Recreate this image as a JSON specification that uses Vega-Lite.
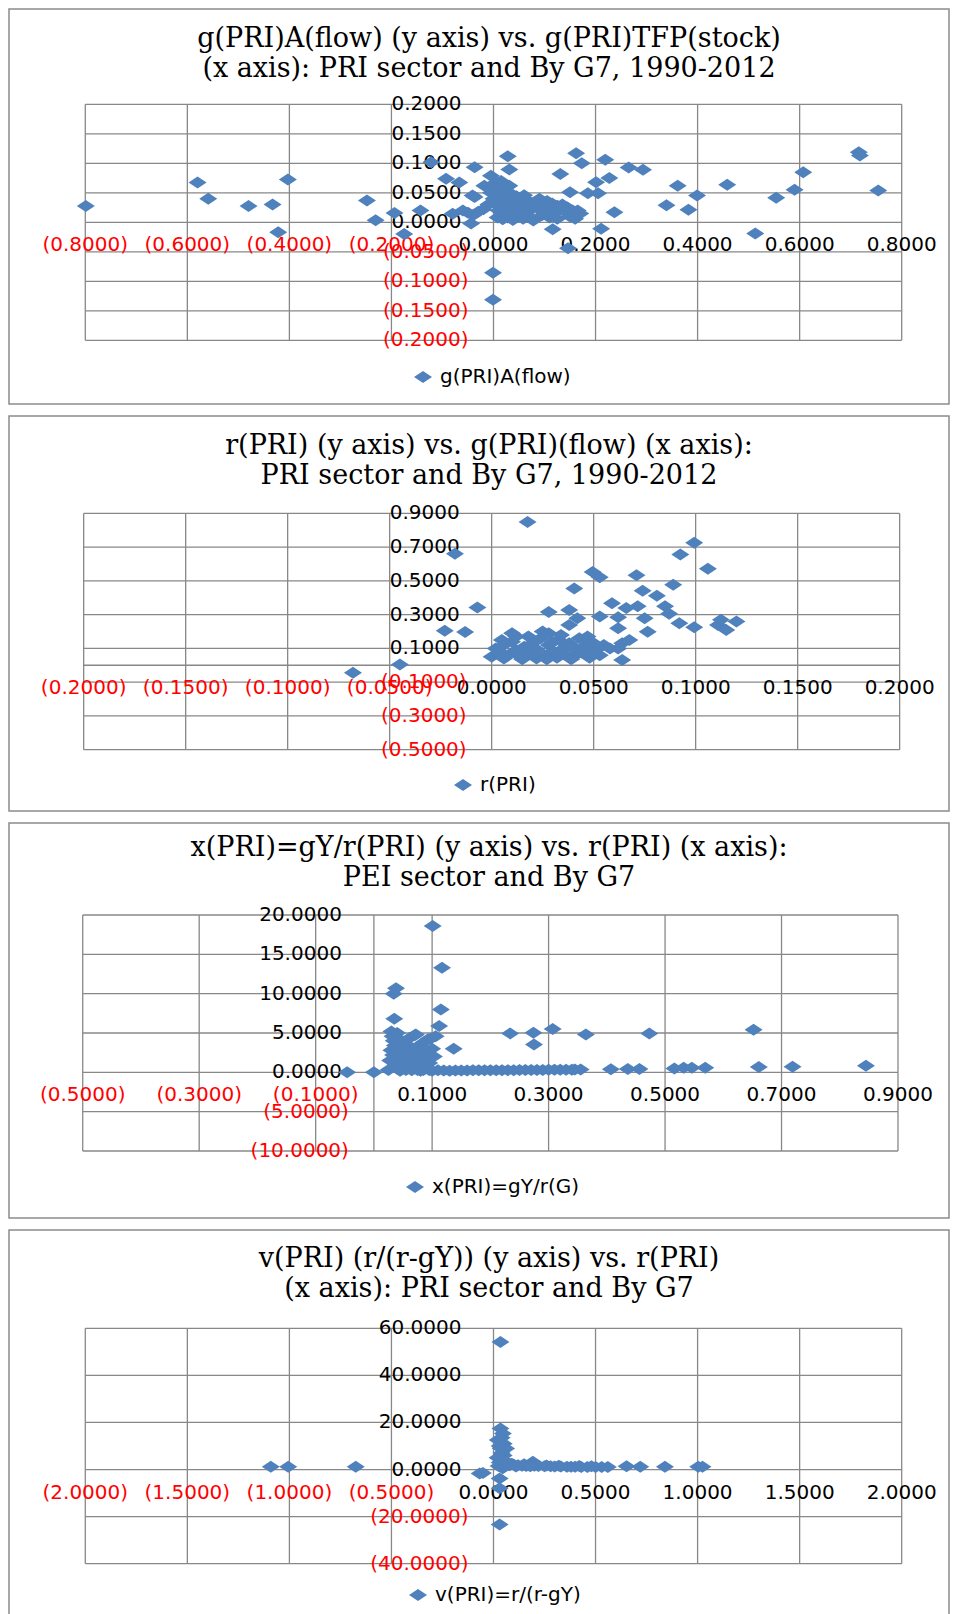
{
  "$schema": "https://vega.github.io/schema/vega-lite/v6.json",
  "background": "white",
  "padding": {"left": 8, "top": 8, "right": 2, "bottom": 0},
  "spacing": 10,
  "config": {
    "view": {"stroke": "#8c8c8c", "strokeWidth": 1.5},
    "title": {"font": "DejaVu Serif", "fontSize": 27, "fontWeight": "normal", "color": "#000000", "lineHeight": 30, "anchor": "middle", "frame": "group", "dx": 10},
    "legend": {"labelFont": "DejaVu Sans", "labelFontSize": 20, "labelColor": "#000000", "symbolSize": 144, "symbolType": "M-1.5,0L0,-1L1.5,0L0,1Z", "symbolStrokeWidth": 0, "symbolOpacity": 1, "padding": 0, "labelOffset": 7}
  },
  "resolve": {"scale": {"x": "independent", "y": "independent", "color": "independent"}, "legend": {"color": "independent"}},
  "datasets": {
    "p1": [
      {"x":-0.799,"y":0.0275},{"x":-0.580,"y":0.0674},{"x":-0.559,"y":0.040},{"x":-0.480,"y":0.0275},{"x":-0.433,"y":0.030},{"x":-0.403,"y":0.0725},{"x":-0.422,"y":-0.017},{"x":-0.248,"y":0.037},{"x":-0.231,"y":0.0034},{"x":-0.194,"y":0.0157},{"x":-0.175,"y":-0.020},{"x":-0.143,"y":0.020},{"x":-0.122,"y":0.1017},{"x":-0.093,"y":0.0736},{"x":-0.067,"y":0.0674},{"x":-0.037,"y":0.0933},{"x":-0.037,"y":0.0427},{"x":-0.080,"y":0.0146},{"x":-0.044,"y":-0.002},{"x":-0.001,"y":-0.0854},{"x":-0.001,"y":-0.1315},{"x":-0.005,"y":0.079},{"x":0.028,"y":0.1118},{"x":0.031,"y":0.0893},{"x":0.131,"y":0.082},{"x":0.162,"y":0.117},{"x":0.173,"y":0.100},{"x":0.219,"y":0.106},{"x":0.265,"y":0.093},{"x":0.293,"y":0.089},{"x":0.227,"y":0.075},{"x":0.201,"y":0.068},{"x":0.150,"y":0.051},{"x":0.185,"y":0.049},{"x":0.205,"y":0.049},{"x":0.165,"y":0.020},{"x":0.237,"y":0.017},{"x":0.211,"y":-0.011},{"x":0.116,"y":-0.012},{"x":0.146,"y":-0.044},{"x":0.361,"y":0.062},{"x":0.399,"y":0.0455},{"x":0.339,"y":0.0287},{"x":0.382,"y":0.0213},{"x":0.458,"y":0.0635},{"x":0.513,"y":-0.019},{"x":0.554,"y":0.0416},{"x":0.590,"y":0.055},{"x":0.607,"y":0.085},{"x":0.716,"y":0.1185},{"x":0.718,"y":0.113},{"x":0.754,"y":0.054},{"x":-0.018,"y":0.062},{"x":0.031,"y":0.062},{"x":-0.041,"y":0.0455},
      {"x":0.000,"y":0.040},{"x":0.005,"y":0.030},{"x":0.010,"y":0.020},{"x":0.015,"y":0.045},{"x":0.020,"y":0.035},{"x":0.025,"y":0.025},{"x":0.030,"y":0.015},{"x":0.035,"y":0.040},{"x":0.040,"y":0.030},{"x":0.045,"y":0.020},{"x":0.050,"y":0.035},{"x":0.055,"y":0.028},{"x":0.060,"y":0.018},{"x":0.065,"y":0.038},{"x":0.070,"y":0.030},{"x":0.075,"y":0.022},{"x":0.080,"y":0.034},{"x":0.085,"y":0.026},{"x":0.090,"y":0.040},{"x":0.095,"y":0.020},{"x":0.100,"y":0.030},{"x":0.105,"y":0.036},{"x":0.110,"y":0.024},{"x":0.115,"y":0.032},{"x":0.120,"y":0.016},{"x":0.125,"y":0.028},{"x":0.130,"y":0.022},{"x":0.140,"y":0.018},{"x":0.150,"y":0.010},{"x":0.160,"y":0.006},{"x":-0.010,"y":0.030},{"x":-0.020,"y":0.022},{"x":-0.030,"y":0.018},{"x":-0.040,"y":0.012},{"x":-0.050,"y":0.016},{"x":-0.060,"y":0.020},{"x":0.008,"y":0.008},{"x":0.018,"y":0.005},{"x":0.028,"y":0.008},{"x":0.038,"y":0.004},{"x":0.048,"y":0.010},{"x":0.058,"y":0.006},{"x":0.068,"y":0.010},{"x":0.078,"y":0.003},{"x":0.012,"y":0.052},{"x":0.022,"y":0.058},{"x":0.002,"y":0.060},{"x":0.032,"y":0.050},{"x":0.045,"y":0.044},{"x":0.060,"y":0.046},{"x":0.015,"y":0.070},{"x":0.005,"y":0.068},{"x":-0.005,"y":0.050},{"x":0.095,"y":0.012},{"x":0.110,"y":0.008},{"x":0.135,"y":0.030},{"x":0.145,"y":0.025},{"x":0.155,"y":0.020},{"x":0.170,"y":0.015},{"x":0.125,"y":0.006}
    ],
    "p2": [
      {"x":-0.068,"y":-0.045},{"x":-0.045,"y":0.005},{"x":-0.018,"y":0.660},{"x":-0.007,"y":0.342},{"x":-0.023,"y":0.205},{"x":-0.013,"y":0.197},{"x":0.0176,"y":0.848},{"x":0.028,"y":0.315},{"x":0.0405,"y":0.454},{"x":0.038,"y":0.328},{"x":0.042,"y":0.279},{"x":0.038,"y":0.239},{"x":0.0495,"y":0.553},{"x":0.053,"y":0.521},{"x":0.053,"y":0.289},{"x":0.059,"y":0.368},{"x":0.062,"y":0.285},{"x":0.062,"y":0.219},{"x":0.066,"y":0.339},{"x":0.0716,"y":0.349},{"x":0.071,"y":0.533},{"x":0.074,"y":0.442},{"x":0.075,"y":0.279},{"x":0.0765,"y":0.199},{"x":0.081,"y":0.412},{"x":0.085,"y":0.349},{"x":0.087,"y":0.305},{"x":0.089,"y":0.477},{"x":0.0925,"y":0.656},{"x":0.092,"y":0.249},{"x":0.0993,"y":0.726},{"x":0.0993,"y":0.225},{"x":0.106,"y":0.571},{"x":0.111,"y":0.239},{"x":0.1124,"y":0.269},{"x":0.115,"y":0.209},{"x":0.120,"y":0.259},{"x":0.062,"y":0.100},{"x":0.064,"y":0.130},{"x":0.064,"y":0.031},{"x":0.0675,"y":0.149},
      {"x":0.000,"y":0.050},{"x":0.002,"y":0.100},{"x":0.004,"y":0.080},{"x":0.006,"y":0.120},{"x":0.008,"y":0.060},{"x":0.010,"y":0.190},{"x":0.010,"y":0.140},{"x":0.012,"y":0.090},{"x":0.014,"y":0.050},{"x":0.016,"y":0.110},{"x":0.018,"y":0.170},{"x":0.018,"y":0.070},{"x":0.020,"y":0.130},{"x":0.022,"y":0.040},{"x":0.022,"y":0.095},{"x":0.024,"y":0.160},{"x":0.026,"y":0.060},{"x":0.028,"y":0.120},{"x":0.028,"y":0.190},{"x":0.030,"y":0.085},{"x":0.032,"y":0.045},{"x":0.033,"y":0.150},{"x":0.035,"y":0.100},{"x":0.036,"y":0.065},{"x":0.038,"y":0.130},{"x":0.040,"y":0.050},{"x":0.041,"y":0.095},{"x":0.043,"y":0.160},{"x":0.044,"y":0.075},{"x":0.046,"y":0.115},{"x":0.048,"y":0.045},{"x":0.049,"y":0.140},{"x":0.051,"y":0.090},{"x":0.053,"y":0.060},{"x":0.055,"y":0.120},{"x":0.006,"y":0.040},{"x":0.012,"y":0.170},{"x":0.025,"y":0.200},{"x":0.034,"y":0.180},{"x":0.015,"y":0.035},{"x":0.027,"y":0.035},{"x":0.039,"y":0.035},{"x":0.045,"y":0.100},{"x":0.005,"y":0.150},{"x":0.020,"y":0.100},{"x":0.030,"y":0.140},{"x":0.040,"y":0.110},{"x":0.050,"y":0.070},{"x":0.058,"y":0.100},{"x":0.047,"y":0.170}
    ],
    "p3": [
      {"x":-0.046,"y":0.0},{"x":0.000,"y":0.0},{"x":0.101,"y":18.6},{"x":0.117,"y":13.3},{"x":0.038,"y":10.7},{"x":0.034,"y":10.0},{"x":0.035,"y":6.8},{"x":0.115,"y":8.0},{"x":0.112,"y":5.9},{"x":0.137,"y":3.0},{"x":0.098,"y":4.3},{"x":0.070,"y":4.7},{"x":0.234,"y":4.95},{"x":0.274,"y":5.03},{"x":0.275,"y":3.55},{"x":0.307,"y":5.5},{"x":0.364,"y":4.8},{"x":0.473,"y":4.95},{"x":0.652,"y":5.4},{"x":0.407,"y":0.38},{"x":0.436,"y":0.42},{"x":0.456,"y":0.42},{"x":0.516,"y":0.5},{"x":0.532,"y":0.59},{"x":0.546,"y":0.59},{"x":0.569,"y":0.59},{"x":0.661,"y":0.67},{"x":0.719,"y":0.72},{"x":0.845,"y":0.84},
      {"x":0.030,"y":5.2},{"x":0.032,"y":4.6},{"x":0.034,"y":4.0},{"x":0.036,"y":3.4},{"x":0.030,"y":2.8},{"x":0.033,"y":2.2},{"x":0.035,"y":1.6},{"x":0.038,"y":1.0},{"x":0.040,"y":0.5},{"x":0.028,"y":1.5},{"x":0.042,"y":3.0},{"x":0.045,"y":2.0},{"x":0.048,"y":4.0},{"x":0.050,"y":1.2},{"x":0.052,"y":2.8},{"x":0.055,"y":3.6},{"x":0.058,"y":0.8},{"x":0.060,"y":2.2},{"x":0.062,"y":4.4},{"x":0.065,"y":1.5},{"x":0.068,"y":3.0},{"x":0.070,"y":2.0},{"x":0.072,"y":4.8},{"x":0.075,"y":1.0},{"x":0.078,"y":3.4},{"x":0.080,"y":2.4},{"x":0.083,"y":0.6},{"x":0.085,"y":3.8},{"x":0.088,"y":1.8},{"x":0.090,"y":2.8},{"x":0.093,"y":4.2},{"x":0.095,"y":1.2},{"x":0.100,"y":3.0},{"x":0.103,"y":2.0},{"x":0.106,"y":4.6},{"x":0.040,"y":5.0},{"x":0.025,"y":0.3},{"x":0.045,"y":0.2},{"x":0.055,"y":0.3},{"x":0.065,"y":0.25},{"x":0.075,"y":0.3},{"x":0.085,"y":0.3},{"x":0.095,"y":0.3},
      {"x":0.08,"y":0.2},{"x":0.10,"y":0.2},{"x":0.12,"y":0.22},{"x":0.14,"y":0.22},{"x":0.16,"y":0.24},{"x":0.18,"y":0.25},{"x":0.20,"y":0.26},{"x":0.22,"y":0.28},{"x":0.24,"y":0.28},{"x":0.26,"y":0.3},{"x":0.28,"y":0.3},{"x":0.30,"y":0.32},{"x":0.32,"y":0.33},{"x":0.34,"y":0.34},{"x":0.355,"y":0.35},{"x":0.11,"y":0.25},{"x":0.13,"y":0.2},{"x":0.15,"y":0.23},{"x":0.17,"y":0.25},{"x":0.19,"y":0.26},{"x":0.21,"y":0.27},{"x":0.23,"y":0.28},{"x":0.25,"y":0.29},{"x":0.27,"y":0.3},{"x":0.29,"y":0.31},{"x":0.31,"y":0.32},{"x":0.33,"y":0.33},{"x":0.345,"y":0.35}
    ],
    "p4": [
      {"x":-1.091,"y":1.2},{"x":-1.006,"y":1.2},{"x":-0.675,"y":1.2},{"x":-0.068,"y":-1.7},{"x":-0.052,"y":-1.5},{"x":0.034,"y":54.2},{"x":0.030,"y":-23.3},{"x":0.030,"y":-3.8},{"x":0.030,"y":-8.0},{"x":0.034,"y":17.4},{"x":0.046,"y":15.3},{"x":0.021,"y":12.5},{"x":0.05,"y":11.0},{"x":0.062,"y":8.9},{"x":0.03,"y":10.0},{"x":0.04,"y":7.0},{"x":0.02,"y":5.0},{"x":0.05,"y":4.0},{"x":0.03,"y":3.0},{"x":0.06,"y":2.5},{"x":0.025,"y":1.5},{"x":0.07,"y":2.0},{"x":0.045,"y":0.5},{"x":0.08,"y":1.8},{"x":0.1,"y":2.0},{"x":0.12,"y":1.8},{"x":0.14,"y":1.6},{"x":0.16,"y":1.5},{"x":0.193,"y":3.3},{"x":0.2,"y":1.6},{"x":0.22,"y":1.5},{"x":0.25,"y":1.4},{"x":0.28,"y":1.4},{"x":0.3,"y":1.3},{"x":0.33,"y":1.3},{"x":0.36,"y":1.2},{"x":0.38,"y":1.2},{"x":0.4,"y":1.2},{"x":0.43,"y":1.1},{"x":0.46,"y":1.1},{"x":0.5,"y":1.1},{"x":0.53,"y":1.1},{"x":0.56,"y":1.1},{"x":0.652,"y":1.4},{"x":0.719,"y":1.15},{"x":0.840,"y":1.15},{"x":1.003,"y":1.15},{"x":1.024,"y":1.15},{"x":0.09,"y":2.5},{"x":0.11,"y":1.3},{"x":0.15,"y":2.2},{"x":0.18,"y":1.4},{"x":0.26,"y":1.7},{"x":0.32,"y":1.6},{"x":0.42,"y":1.5},{"x":0.48,"y":1.4},{"x":0.04,"y":13.5},{"x":0.05,"y":6.0},{"x":0.035,"y":9.0},{"x":0.06,"y":3.5}
    ],
    "p1gx": [{"v":-0.8},{"v":-0.6},{"v":-0.4},{"v":-0.2},{"v":0},{"v":0.2},{"v":0.4},{"v":0.6},{"v":0.8}],
    "p1gy": [{"v":-0.2},{"v":-0.15},{"v":-0.1},{"v":-0.05},{"v":0},{"v":0.05},{"v":0.1},{"v":0.15},{"v":0.2}],
    "p2gx": [{"v":-0.2},{"v":-0.15},{"v":-0.1},{"v":-0.05},{"v":0},{"v":0.05},{"v":0.1},{"v":0.15},{"v":0.2}],
    "p2gy": [{"v":-0.5},{"v":-0.3},{"v":-0.1},{"v":0.1},{"v":0.3},{"v":0.5},{"v":0.7},{"v":0.9}],
    "p3gx": [{"v":-0.5},{"v":-0.3},{"v":-0.1},{"v":0.1},{"v":0.3},{"v":0.5},{"v":0.7},{"v":0.9}],
    "p3gy": [{"v":-10},{"v":-5},{"v":0},{"v":5},{"v":10},{"v":15},{"v":20}],
    "p4gx": [{"v":-2},{"v":-1.5},{"v":-1},{"v":-0.5},{"v":0},{"v":0.5},{"v":1},{"v":1.5},{"v":2}],
    "p4gy": [{"v":-40},{"v":-20},{"v":0},{"v":20},{"v":40},{"v":60}]
  },
  "vconcat": [
    {
      "width": 940, "height": 395,
      "title": {"text": ["g(PRI)A(flow) (y axis) vs. g(PRI)TFP(stock)", "(x axis): PRI sector and By G7, 1990-2012"], "offset": -74},
      "layer": [
        {"data": {"name": "p1gx"}, "mark": {"type": "rule", "color": "#888888", "strokeWidth": 1.3},
         "encoding": {"x": {"field": "v", "type": "quantitative", "scale": {"domain": [-0.9495, 0.8927], "nice": false, "zero": false}, "axis": null},
                      "y": {"datum": -0.2, "type": "quantitative", "scale": {"domain": [-0.308, 0.3615], "nice": false, "zero": false}, "axis": null},
                      "y2": {"datum": 0.2}}},
        {"data": {"name": "p1gy"}, "mark": {"type": "rule", "color": "#888888", "strokeWidth": 1.3},
         "encoding": {"y": {"field": "v", "type": "quantitative", "scale": {"domain": [-0.308, 0.3615], "nice": false, "zero": false}, "axis": null},
                      "x": {"datum": -0.8, "type": "quantitative", "scale": {"domain": [-0.9495, 0.8927], "nice": false, "zero": false}, "axis": null},
                      "x2": {"datum": 0.8}}},
        {"data": {"name": "p1gx"}, "mark": {"type": "text", "font": "DejaVu Sans", "fontSize": 20, "align": "center", "baseline": "middle", "dy": 23},
         "encoding": {"x": {"field": "v", "type": "quantitative"}, "y": {"datum": 0, "type": "quantitative"},
                      "text": {"field": "v", "type": "quantitative", "format": "(.4f"},
                      "color": {"condition": {"test": "datum.v < 0", "value": "#FF0000"}, "value": "#000000"}}},
        {"data": {"name": "p1gy"}, "transform": [{"filter": "datum.v >= 0"}], "mark": {"type": "text", "font": "DejaVu Sans", "fontSize": 20, "align": "right", "baseline": "middle", "dx": -32, "color": "#000000"},
         "encoding": {"y": {"field": "v", "type": "quantitative"}, "x": {"datum": 0, "type": "quantitative"},
                      "text": {"field": "v", "type": "quantitative", "format": "(.4f"}}},
        {"data": {"name": "p1gy"}, "transform": [{"filter": "datum.v < 0"}], "mark": {"type": "text", "font": "DejaVu Sans", "fontSize": 20, "align": "right", "baseline": "middle", "dx": -25, "color": "#FF0000"},
         "encoding": {"y": {"field": "v", "type": "quantitative"}, "x": {"datum": 0, "type": "quantitative"},
                      "text": {"field": "v", "type": "quantitative", "format": "(.4f"}}},
        {"data": {"name": "p1"}, "mark": {"type": "point", "filled": true, "opacity": 1, "shape": "M-1.5,0L0,-1L1.5,0L0,1Z", "size": 144},
         "encoding": {"x": {"field": "x", "type": "quantitative"}, "y": {"field": "y", "type": "quantitative"},
                      "color": {"datum": "g(PRI)A(flow)", "type": "nominal", "scale": {"range": ["#4F81BD"]}, "legend": {"title": null, "orient": "none", "legendX": 404, "legendY": 358}}}}
      ]
    },
    {
      "width": 940, "height": 395,
      "title": {"text": ["r(PRI) (y axis) vs. g(PRI)(flow) (x axis):", "PRI sector and By G7, 1990-2012"], "offset": -74},
      "layer": [
        {"data": {"name": "p2gx"}, "mark": {"type": "rule", "color": "#888888", "strokeWidth": 1.3},
         "encoding": {"x": {"field": "v", "type": "quantitative", "scale": {"domain": [-0.2366, 0.2242], "nice": false, "zero": false}, "axis": null},
                      "y": {"datum": -0.5, "type": "quantitative", "scale": {"domain": [-0.863, 1.4762], "nice": false, "zero": false}, "axis": null},
                      "y2": {"datum": 0.9}}},
        {"data": {"name": "p2gy"}, "mark": {"type": "rule", "color": "#888888", "strokeWidth": 1.3},
         "encoding": {"y": {"field": "v", "type": "quantitative", "scale": {"domain": [-0.863, 1.4762], "nice": false, "zero": false}, "axis": null},
                      "x": {"datum": -0.2, "type": "quantitative", "scale": {"domain": [-0.2366, 0.2242], "nice": false, "zero": false}, "axis": null},
                      "x2": {"datum": 0.2}}},
        {"data": {"values": [{}]}, "mark": {"type": "rule", "color": "#888888", "strokeWidth": 1.3},
         "encoding": {"y": {"datum": 0, "type": "quantitative"}, "x": {"datum": -0.2, "type": "quantitative"}, "x2": {"datum": 0.2}}},
        {"data": {"name": "p2gx"}, "mark": {"type": "text", "font": "DejaVu Sans", "fontSize": 20, "align": "center", "baseline": "middle", "dy": 23},
         "encoding": {"x": {"field": "v", "type": "quantitative"}, "y": {"datum": 0, "type": "quantitative"},
                      "text": {"field": "v", "type": "quantitative", "format": "(.4f"},
                      "color": {"condition": {"test": "datum.v < 0", "value": "#FF0000"}, "value": "#000000"}}},
        {"data": {"name": "p2gy"}, "transform": [{"filter": "datum.v >= 0"}], "mark": {"type": "text", "font": "DejaVu Sans", "fontSize": 20, "align": "right", "baseline": "middle", "dx": -32, "color": "#000000"},
         "encoding": {"y": {"field": "v", "type": "quantitative"}, "x": {"datum": 0, "type": "quantitative"},
                      "text": {"field": "v", "type": "quantitative", "format": "(.4f"}}},
        {"data": {"name": "p2gy"}, "transform": [{"filter": "datum.v < 0"}], "mark": {"type": "text", "font": "DejaVu Sans", "fontSize": 20, "align": "right", "baseline": "middle", "dx": -25, "color": "#FF0000"},
         "encoding": {"y": {"field": "v", "type": "quantitative"}, "x": {"datum": 0, "type": "quantitative"},
                      "text": {"field": "v", "type": "quantitative", "format": "(.4f"}}},
        {"data": {"name": "p2"}, "mark": {"type": "point", "filled": true, "opacity": 1, "shape": "M-1.5,0L0,-1L1.5,0L0,1Z", "size": 144},
         "encoding": {"x": {"field": "x", "type": "quantitative"}, "y": {"field": "y", "type": "quantitative"},
                      "color": {"datum": "r(PRI)", "type": "nominal", "scale": {"range": ["#4F81BD"]}, "legend": {"title": null, "orient": "none", "legendX": 444, "legendY": 359}}}}
      ]
    },
    {
      "width": 940, "height": 395,
      "title": {"text": ["x(PRI)=gY/r(PRI) (y axis) vs. r(PRI) (x axis):", "PEI sector and By G7"], "offset": -69},
      "layer": [
        {"data": {"name": "p3gx"}, "mark": {"type": "rule", "color": "#888888", "strokeWidth": 1.3},
         "encoding": {"x": {"field": "v", "type": "quantitative", "scale": {"domain": [-0.6266, 0.9876], "nice": false, "zero": false}, "axis": null},
                      "y": {"datum": -10, "type": "quantitative", "scale": {"domain": [-18.517, 31.695], "nice": false, "zero": false}, "axis": null},
                      "y2": {"datum": 20}}},
        {"data": {"name": "p3gy"}, "mark": {"type": "rule", "color": "#888888", "strokeWidth": 1.3},
         "encoding": {"y": {"field": "v", "type": "quantitative", "scale": {"domain": [-18.517, 31.695], "nice": false, "zero": false}, "axis": null},
                      "x": {"datum": -0.5, "type": "quantitative", "scale": {"domain": [-0.6266, 0.9876], "nice": false, "zero": false}, "axis": null},
                      "x2": {"datum": 0.9}}},
        {"data": {"values": [{}]}, "mark": {"type": "rule", "color": "#888888", "strokeWidth": 1.3},
         "encoding": {"x": {"datum": 0, "type": "quantitative"}, "y": {"datum": -10, "type": "quantitative"}, "y2": {"datum": 20}}},
        {"data": {"name": "p3gx"}, "mark": {"type": "text", "font": "DejaVu Sans", "fontSize": 20, "align": "center", "baseline": "middle", "dy": 23},
         "encoding": {"x": {"field": "v", "type": "quantitative"}, "y": {"datum": 0, "type": "quantitative"},
                      "text": {"field": "v", "type": "quantitative", "format": "(.4f"},
                      "color": {"condition": {"test": "datum.v < 0", "value": "#FF0000"}, "value": "#000000"}}},
        {"data": {"name": "p3gy"}, "transform": [{"filter": "datum.v >= 0"}], "mark": {"type": "text", "font": "DejaVu Sans", "fontSize": 20, "align": "right", "baseline": "middle", "dx": -32, "color": "#000000"},
         "encoding": {"y": {"field": "v", "type": "quantitative"}, "x": {"datum": 0, "type": "quantitative"},
                      "text": {"field": "v", "type": "quantitative", "format": "(.4f"}}},
        {"data": {"name": "p3gy"}, "transform": [{"filter": "datum.v < 0"}], "mark": {"type": "text", "font": "DejaVu Sans", "fontSize": 20, "align": "right", "baseline": "middle", "dx": -25, "color": "#FF0000"},
         "encoding": {"y": {"field": "v", "type": "quantitative"}, "x": {"datum": 0, "type": "quantitative"},
                      "text": {"field": "v", "type": "quantitative", "format": "(.4f"}}},
        {"data": {"name": "p3"}, "mark": {"type": "point", "filled": true, "opacity": 1, "shape": "M-1.5,0L0,-1L1.5,0L0,1Z", "size": 144},
         "encoding": {"x": {"field": "x", "type": "quantitative"}, "y": {"field": "y", "type": "quantitative"},
                      "color": {"datum": "x(PRI)=gY/r(G)", "type": "nominal", "scale": {"range": ["#4F81BD"]}, "legend": {"title": null, "orient": "none", "legendX": 396, "legendY": 354}}}}
      ]
    },
    {
      "width": 940, "height": 395,
      "title": {"text": ["v(PRI) (r/(r-gY)) (y axis) vs. r(PRI)", "(x axis): PRI sector and By G7"], "offset": -73},
      "layer": [
        {"data": {"name": "p4gx"}, "mark": {"type": "rule", "color": "#888888", "strokeWidth": 1.3},
         "encoding": {"x": {"field": "v", "type": "quantitative", "scale": {"domain": [-2.3738, 2.2318], "nice": false, "zero": false}, "axis": null},
                      "y": {"datum": -40, "type": "quantitative", "scale": {"domain": [-66.04, 101.76], "nice": false, "zero": false}, "axis": null},
                      "y2": {"datum": 60}}},
        {"data": {"name": "p4gy"}, "mark": {"type": "rule", "color": "#888888", "strokeWidth": 1.3},
         "encoding": {"y": {"field": "v", "type": "quantitative", "scale": {"domain": [-66.04, 101.76], "nice": false, "zero": false}, "axis": null},
                      "x": {"datum": -2, "type": "quantitative", "scale": {"domain": [-2.3738, 2.2318], "nice": false, "zero": false}, "axis": null},
                      "x2": {"datum": 2}}},
        {"data": {"name": "p4gx"}, "mark": {"type": "text", "font": "DejaVu Sans", "fontSize": 20, "align": "center", "baseline": "middle", "dy": 23},
         "encoding": {"x": {"field": "v", "type": "quantitative"}, "y": {"datum": 0, "type": "quantitative"},
                      "text": {"field": "v", "type": "quantitative", "format": "(.4f"},
                      "color": {"condition": {"test": "datum.v < 0", "value": "#FF0000"}, "value": "#000000"}}},
        {"data": {"name": "p4gy"}, "transform": [{"filter": "datum.v >= 0"}], "mark": {"type": "text", "font": "DejaVu Sans", "fontSize": 20, "align": "right", "baseline": "middle", "dx": -32, "color": "#000000"},
         "encoding": {"y": {"field": "v", "type": "quantitative"}, "x": {"datum": 0, "type": "quantitative"},
                      "text": {"field": "v", "type": "quantitative", "format": "(.4f"}}},
        {"data": {"name": "p4gy"}, "transform": [{"filter": "datum.v < 0"}], "mark": {"type": "text", "font": "DejaVu Sans", "fontSize": 20, "align": "right", "baseline": "middle", "dx": -25, "color": "#FF0000"},
         "encoding": {"y": {"field": "v", "type": "quantitative"}, "x": {"datum": 0, "type": "quantitative"},
                      "text": {"field": "v", "type": "quantitative", "format": "(.4f"}}},
        {"data": {"name": "p4"}, "mark": {"type": "point", "filled": true, "opacity": 1, "shape": "M-1.5,0L0,-1L1.5,0L0,1Z", "size": 144},
         "encoding": {"x": {"field": "x", "type": "quantitative"}, "y": {"field": "y", "type": "quantitative"},
                      "color": {"datum": "v(PRI)=r/(r-gY)", "type": "nominal", "scale": {"range": ["#4F81BD"]}, "legend": {"title": null, "orient": "none", "legendX": 399, "legendY": 355}}}}
      ]
    }
  ]
}
